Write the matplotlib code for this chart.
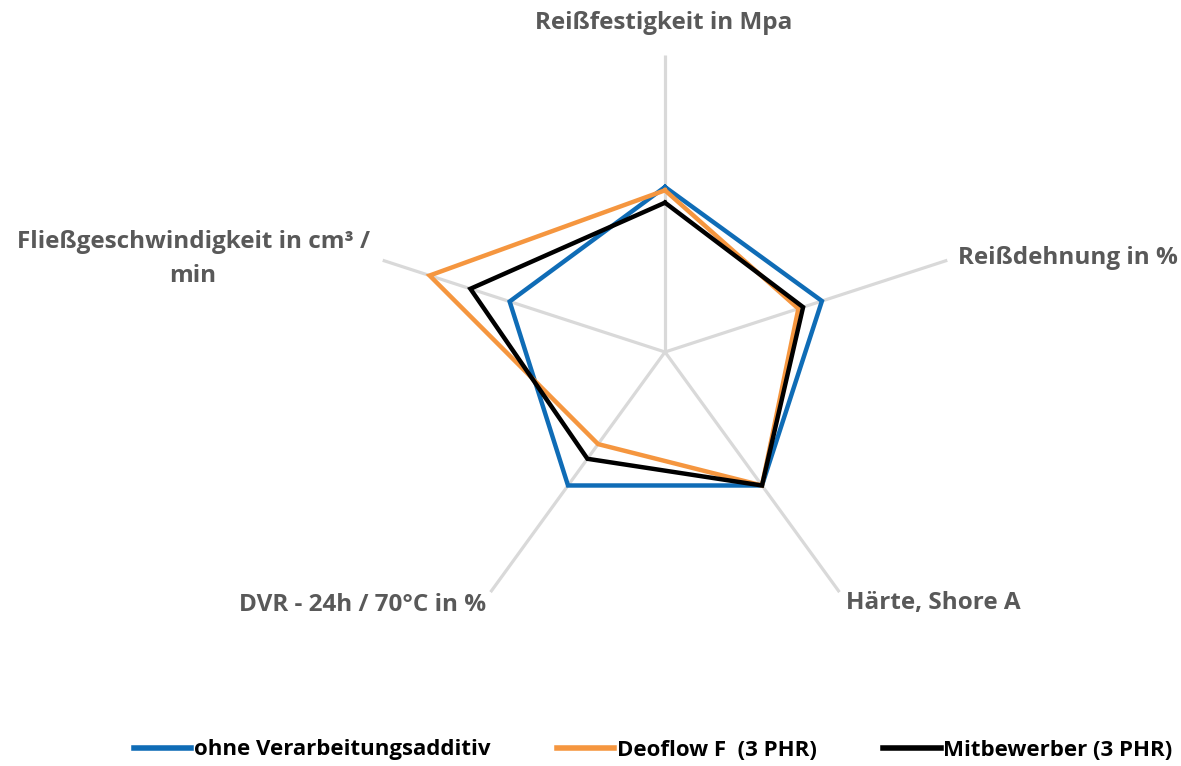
import matplotlib
matplotlib.use("Agg")
import matplotlib.pyplot as plt
import numpy as np

# axis labels, clockwise from the top
categories = ["Reißfestigkeit in Mpa", "Reißdehnung in %", "Härte, Shore A",
              "DVR - 24h / 70°C in %", "Fließgeschwindigkeit in cm³ /\nmin"]
series_names = ["ohne Verarbeitungsadditiv", "Deoflow F  (3 PHR)", "Mitbewerber (3 PHR)"]
ohne = [1.00, 1.00, 1.00, 1.00, 0.99]
deoflow = [0.98, 0.85, 1.00, 0.69, 1.50]
mitbewerber = [0.905, 0.88, 1.00, 0.80, 1.24]
r_max = 1.8

colors = ["#0F6CB6", "#F5963F", "#000000"]
label_color = "#595959"

plt.rcParams['font.family'] = ['Open Sans', 'DejaVu Sans']

W, H = 1181, 766
fig = plt.figure(figsize=(W / 100, H / 100), dpi=100)
cx, cy, R = 665, 352, 297
ax = fig.add_axes([(cx - R) / W, 1 - (cy + R) / H, 2 * R / W, 2 * R / H], projection='polar')
ax.set_theta_zero_location('N')
ax.set_theta_direction(-1)
ax.set_ylim(0, r_max)
ax.grid(False)
ax.spines['polar'].set_visible(False)
ax.set_xticks([])
ax.set_yticks([])
ax.patch.set_alpha(0)

n = len(categories)
angles = np.linspace(0, 2 * np.pi, n, endpoint=False)
for a in angles:
    ax.plot([a, a], [0, r_max], color="#D9D9D9", lw=2.3, zorder=1, solid_capstyle='butt')

closed = np.append(angles, angles[0])
for vals, c, name in zip([ohne, deoflow, mitbewerber], colors, series_names):
    v = np.append(vals, vals[0])
    ax.plot(closed, v, color=c, lw=3.2, label=name, zorder=3, solid_joinstyle='miter')

# category labels (pixel positions of the reference)
lab_kw = dict(fontsize=17.5, fontweight='bold', color=label_color)
fig.text(664 / W, 1 - 23 / H, categories[0], ha='center', va='center', **lab_kw)
fig.text(958 / W, 1 - 258 / H, categories[1], ha='left', va='center', **lab_kw)
fig.text(846 / W, 1 - 603 / H, categories[2], ha='left', va='center', **lab_kw)
fig.text(486 / W, 1 - 605 / H, categories[3], ha='right', va='center', **lab_kw)
fig.text(193 / W, 1 - 259 / H, categories[4], ha='center', va='center',
         linespacing=1.6, **lab_kw)

leg = fig.legend(loc='center', bbox_to_anchor=(653 / W, 1 - 750 / H), ncol=3,
                 frameon=False, handlelength=2.6, handletextpad=0.1, columnspacing=3.0,
                 prop={'weight': 'bold', 'size': 16})
for line in leg.get_lines():
    line.set_linewidth(4)

fig.savefig("out.png", dpi=100)
